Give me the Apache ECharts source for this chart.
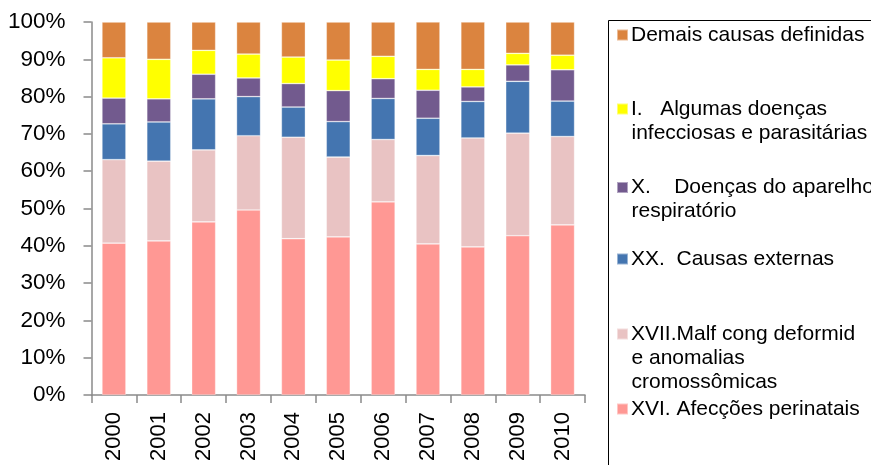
<!DOCTYPE html>
<html>
<head>
<meta charset="utf-8">
<script src="https://cdn.jsdelivr.net/npm/echarts@6/dist/echarts.min.js"></script>
<style>html,body{margin:0;padding:0;background:#fff;}#c{width:871px;height:465px;}</style>
</head>
<body>
<div id="c"></div>
<script>
// ---- data (percent of deaths per year) ----
const categories = ['2000','2001','2002','2003','2004','2005','2006','2007','2008','2009','2010'];
const perinatais   = [40.7, 41.3, 46.4, 49.6, 41.9, 42.4, 51.8, 40.5, 39.7, 42.7, 45.6];
const malformacoes = [22.4, 21.4, 19.3, 19.9, 27.2, 21.4, 16.7, 23.7, 29.2, 27.5, 23.7];
const externas     = [ 9.6, 10.5, 13.7, 10.5,  8.1,  9.5, 11.0, 10.0,  9.8, 13.9,  9.5];
const respiratorio = [ 6.9,  6.2,  6.6,  5.0,  6.3,  8.3,  5.3,  7.5,  3.9,  4.4,  8.4];
const infecciosas  = [10.8, 10.6,  6.4,  6.4,  7.1,  8.2,  6.0,  5.6,  4.7,  3.1,  3.9];
const demais       = [ 9.6, 10.0,  7.6,  8.6,  9.4, 10.2,  9.2, 12.7, 12.7,  8.4,  8.9];

// legend labels, split into the lines shown in the legend box
const labels = {
  demais:       ['Demais causas definidas'],
  infecciosas:  ['I.   Algumas doenças', 'infecciosas e parasitárias'],
  respiratorio: ['X.    Doenças do aparelho', 'respiratório'],
  externas:     ['XX.  Causas externas'],
  malformacoes: ['XVII.Malf cong deformid', 'e anomalias', 'cromossômicas'],
  perinatais:   ['XVI. Afecções perinatais']
};

const FONT = 'Liberation Sans, Arial, sans-serif';
const colors = {
  perinatais: '#FF9894', malformacoes: '#E9C3C3', externas: '#4475B0',
  respiratorio: '#725A8E', infecciosas: '#FFFF00', demais: '#DB843F'
};
const seriesData = { perinatais, malformacoes, externas, respiratorio, infecciosas, demais };
const order = ['perinatais','malformacoes','externas','respiratorio','infecciosas','demais'];
const fullName = k => labels[k].join(' ');

const series = order.map(k => ({
  name: fullName(k),
  type: 'bar',
  stack: 'total',
  barWidth: 24,
  data: seriesData[k],
  itemStyle: { color: colors[k], borderColor: 'rgba(255,255,255,0.45)', borderWidth: 0.7 },
  emphasis: { disabled: true }
}));

// legend icon centres (y) and line spacing
const legendPos = { demais: 35, infecciosas: 109, respiratorio: 187.5, externas: 259, malformacoes: 334, perinatais: 409 };
const LH = 24;
const FS = 21;
const legends = order.map(k => ({
  data: [fullName(k)],
  left: 616,
  top: legendPos[k] - LH / 2,
  padding: 0,
  itemWidth: 11,
  itemHeight: 11,
  itemGap: 0,
  icon: 'rect',
  selectedMode: false,
  formatter: () => labels[k][0],
  textStyle: { fontFamily: FONT, fontSize: FS, color: '#000', lineHeight: LH, padding: [0, 0, 0, -2] }
}));

const graphics = [{
  type: 'rect', silent: true,
  shape: { x: 608.5, y: 20.5, width: 400, height: 500 },
  style: { fill: 'none', stroke: '#000', lineWidth: 1 }
}];
order.forEach(k => {
  labels[k].slice(1).forEach((t, i) => {
    graphics.push({
      type: 'text', silent: true,
      x: 631.5, y: legendPos[k] + (i + 1) * LH,
      style: { text: t, font: FS + 'px ' + FONT, fill: '#000', verticalAlign: 'middle', align: 'left' }
    });
  });
});

const chart = echarts.init(document.getElementById('c'), null, { renderer: 'canvas' });
chart.setOption({
  animation: false,
  backgroundColor: '#fff',
  grid: { left: 91.5, right: 286, top: 22, bottom: 70, containLabel: false },
  legend: legends,
  xAxis: {
    type: 'category',
    data: categories,
    axisLine: { lineStyle: { color: '#8a8a8a', width: 1.5 } },
    axisTick: { show: true, length: 8, alignWithLabel: false, lineStyle: { color: '#8a8a8a', width: 1.5 } },
    axisLabel: { rotate: 90, margin: 17, fontFamily: FONT, fontSize: 22, color: '#000', interval: 0 }
  },
  yAxis: {
    type: 'value',
    min: 0, max: 100, interval: 10,
    splitLine: { show: false },
    axisLine: { show: true, lineStyle: { color: '#8a8a8a', width: 1.5 } },
    axisTick: { show: true, length: 8, lineStyle: { color: '#8a8a8a', width: 1.5 } },
    axisLabel: { formatter: '{value}%', margin: 26, fontFamily: FONT, fontSize: 22.5, color: '#000' }
  },
  series: series,
  graphic: graphics
});
</script>
</body>
</html>
